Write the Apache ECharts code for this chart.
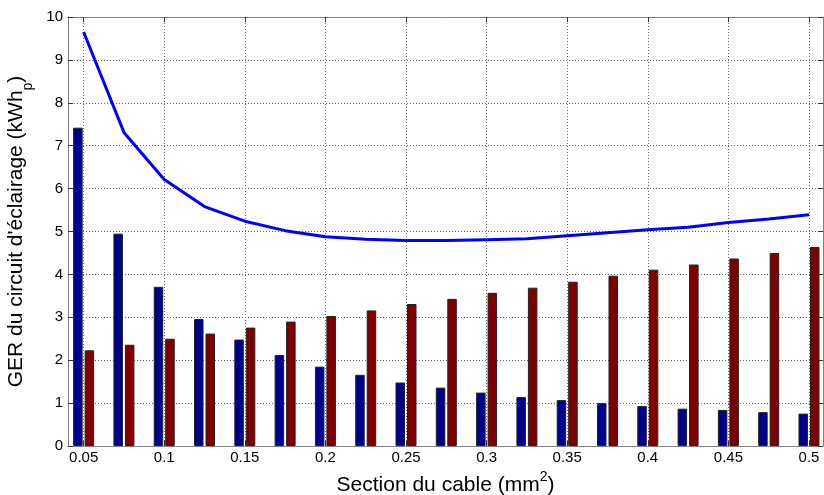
<!DOCTYPE html>
<html>
<head>
<meta charset="utf-8">
<script src="https://cdn.jsdelivr.net/npm/echarts@6/dist/echarts.min.js"></script>
<style>
html,body{margin:0;padding:0;background:#fff;}
#chart{width:824px;height:495px;}
</style>
</head>
<body>
<div id="chart"></div>
<script>
// Cable sections (mm2)
var sections = [0.05, 0.075, 0.1, 0.125, 0.15, 0.175, 0.2, 0.225, 0.25, 0.275, 0.3, 0.325, 0.35, 0.375, 0.4, 0.425, 0.45, 0.475, 0.5];
// Blue bars
var blueValues = [7.42, 4.95, 3.71, 2.96, 2.48, 2.12, 1.85, 1.66, 1.48, 1.36, 1.245, 1.14, 1.07, 1.0, 0.93, 0.87, 0.84, 0.79, 0.755];
// Red bars
var redValues = [2.23, 2.36, 2.50, 2.62, 2.76, 2.90, 3.03, 3.16, 3.31, 3.43, 3.57, 3.69, 3.83, 3.97, 4.11, 4.23, 4.37, 4.50, 4.64];
// Total line
var totalValues = [9.65, 7.31, 6.21, 5.58, 5.24, 5.02, 4.88, 4.82, 4.79, 4.79, 4.81, 4.83, 4.90, 4.97, 5.04, 5.10, 5.21, 5.29, 5.39];
// Tick labels
var xTicks = [0.05, 0.1, 0.15, 0.2, 0.25, 0.3, 0.35, 0.4, 0.45, 0.5];
var yTicks = [0, 1, 2, 3, 4, 5, 6, 7, 8, 9, 10];

function pairs(vals) { return sections.map(function (x, i) { return [x, vals[i]]; }); }

var FONT = '"Liberation Sans", Arial, sans-serif';
var gridDot = { color: '#666', width: 1, type: [1, 2] };
var axisLineStyle = { color: '#808080', width: 1 };
var tickStyle = { color: '#333', width: 1 };

var chart = echarts.init(document.getElementById('chart'), null, { renderer: 'canvas' });
chart.setOption({
  animation: false,
  backgroundColor: '#fff',
  grid: { left: 68, right: 1, top: 17, bottom: 49, containLabel: false, outerBoundsMode: 'none' },
  xAxis: [{
    type: 'value', min: 0.0403, max: 0.5087, position: 'bottom',
    axisLine: { show: true, lineStyle: axisLineStyle },
    axisTick: { show: true, inside: true, length: 5, lineStyle: tickStyle, customValues: xTicks },
    axisLabel: { customValues: xTicks, color: '#000', fontFamily: FONT, fontSize: 15, margin: 4,
      formatter: function (v) { return String(+v.toFixed(3)); } },
    splitLine: { show: true, lineStyle: gridDot },
    name: '{n|Section du cable (mm}{s|2}{n|)}',
    nameLocation: 'middle', nameGap: 17,
    nameTextStyle: { rich: {
      n: { fontFamily: FONT, fontSize: 21, color: '#000', lineHeight: 26, verticalAlign: 'bottom' },
      s: { fontFamily: FONT, fontSize: 14, color: '#000', lineHeight: 14, verticalAlign: 'top' }
    } }
  }, {
    type: 'value', min: 0.0403, max: 0.5087, position: 'top',
    axisLine: { show: true, onZero: false, lineStyle: axisLineStyle },
    axisTick: { show: true, inside: true, length: 5, lineStyle: tickStyle, customValues: xTicks },
    axisLabel: { show: false, customValues: xTicks },
    splitLine: { show: false }
  }],
  yAxis: [{
    type: 'value', min: 0, max: 10, interval: 1, position: 'left',
    axisLine: { show: true, lineStyle: axisLineStyle },
    axisTick: { show: true, inside: true, length: 5, lineStyle: tickStyle },
    axisLabel: { color: '#000', fontFamily: FONT, fontSize: 15, margin: 5 },
    splitLine: { show: true, lineStyle: gridDot },
    name: "{n|GER du circuit d'éclairage (kWh}{p|p}{n|)}",
    nameLocation: 'middle', nameGap: 25,
    nameTextStyle: { rich: {
      n: { fontFamily: FONT, fontSize: 21, color: '#000', lineHeight: 30, verticalAlign: 'top' },
      p: { fontFamily: FONT, fontSize: 14, color: '#000', lineHeight: 30, verticalAlign: 'bottom' }
    } }
  }, {
    type: 'value', min: 0, max: 10, interval: 1, position: 'right',
    axisLine: { show: true, onZero: false, lineStyle: axisLineStyle },
    axisTick: { show: true, inside: true, length: 5, lineStyle: tickStyle },
    axisLabel: { show: false },
    splitLine: { show: false }
  }],
  series: [{
    type: 'bar', name: 'blue', data: pairs(blueValues),
    barWidth: 9.5, barGap: '21%',
    itemStyle: { color: '#000090', borderColor: '#222', borderWidth: 1 }
  }, {
    type: 'bar', name: 'red', data: pairs(redValues),
    barWidth: 9.5, barGap: '21%',
    itemStyle: { color: '#800000', borderColor: '#222', borderWidth: 1 }
  }, {
    type: 'line', name: 'total', data: pairs(totalValues),
    showSymbol: false, symbol: 'none', z: 5,
    lineStyle: { color: '#0000ff', width: 3 }
  }]
});
</script>
</body>
</html>
